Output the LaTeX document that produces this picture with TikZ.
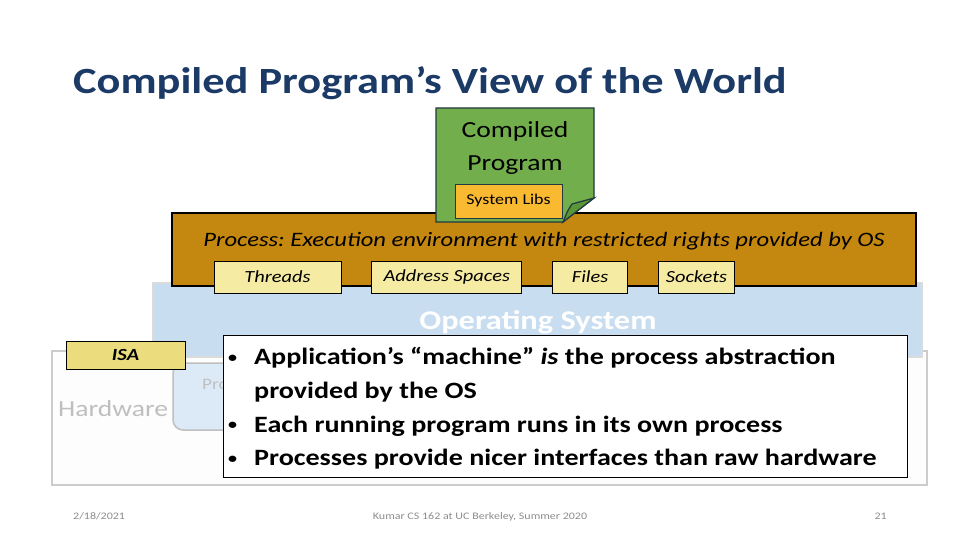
\documentclass[tikz,border=0pt]{standalone}
\usepackage{fontspec}
\setmainfont{Carlito}[FakeStretch=1.2]
\usetikzlibrary{positioning}
\definecolor{titleblue}{HTML}{1B3A66}
\definecolor{progreen}{HTML}{72AE4B}
\definecolor{folddark}{HTML}{5C9438}
\definecolor{greenline}{HTML}{203A40}
\definecolor{libsorange}{HTML}{F9B931}
\definecolor{procbrown}{HTML}{C4870F}
\definecolor{tagyellow}{HTML}{F6EBA3}
\definecolor{isayellow}{HTML}{EBDD7D}
\definecolor{osblue}{HTML}{C9DDF0}
\definecolor{problue}{HTML}{DCEAF8}
\definecolor{hwfill}{HTML}{FDFDFD}
\definecolor{hwline}{HTML}{CCCCCC}
\definecolor{footgray}{HTML}{8C8C8C}
\definecolor{fadegray}{HTML}{BFBFBF}
\newcommand{\smallbul}{\raisebox{2.5pt}{\fontsize{15}{15}\selectfont\textbullet}}
\frenchspacing
\begin{document}
\begin{tikzpicture}[x=1pt,y=-1pt,
  layer/.style={rectangle, inner sep=0pt},
  tagbox/.style={rectangle, draw=black, fill=tagyellow, line width=0.8pt, inner sep=0pt,
    minimum height=32pt, font=\fontsize{17}{19}\selectfont\itshape},
  foot/.style={text=footgray, font=\fontsize{10}{12}\selectfont, inner sep=0pt}]
\useasboundingbox (0,0) rectangle (960,540);
% title
\node[anchor=base west, inner sep=0pt, text=titleblue, font=\fontsize{37}{40}\selectfont\bfseries] (title) at (73,94) {Compiled Program’s View of the World};
% hardware layer
\node[layer, draw=hwline, line width=1.5pt, fill=hwfill, minimum width=875pt, minimum height=134pt] (hw) at (489.5,418) {};
\node[anchor=base west, inner sep=0pt, text=fadegray, font=\fontsize{23}{25}\selectfont] (hwtext) at (58,416) {Hardware};
\node[layer, draw=fadegray, line width=1.5pt, fill=problue, rounded corners=10pt, minimum width=230pt, minimum height=67pt] (probox) at (288,396.5) {};
\node[anchor=base west, inner sep=0pt, text=fadegray, font=\fontsize{16}{18}\selectfont] (protext) at (202,389) {Pro};
% operating system layer
\node[layer, draw=hwline!70, line width=1.5pt, fill=osblue, minimum width=769pt, minimum height=74pt] (os) at (537.5,320) {};
\node[inner sep=0pt, text=white, font=\fontsize{27}{29}\selectfont\bfseries] (ostext) at (538,322) {Operating System};
% process layer
\node[layer, draw=black, line width=1.2pt, fill=procbrown, minimum width=744pt, minimum height=73pt] (process) at (544,249.5) {};
\node[inner sep=0pt, font=\fontsize{20.5}{22}\selectfont\itshape] (proctext) at (544,241) {Process: Execution environment with restricted rights provided by OS};
\node[tagbox, minimum width=127pt] (threads) at (277.5,277) {Threads};
\node[tagbox, minimum width=150pt, right=30pt of threads] (addr) {Address Spaces};
\node[tagbox, minimum width=75pt, right=30pt of addr] (files) {Files};
\node[tagbox, minimum width=76pt, right=30pt of files] (sockets) {Sockets};
% compiled program note
\draw[greenline, line width=1.2pt, fill=progreen] (436,108) -- (594,108) -- (594,198) -- (563,222) -- (436,222) -- cycle;
\draw[greenline, line width=1.2pt, fill=folddark] (594,198) -- (572,204) .. controls (568,210) .. (563,222) -- cycle;
\node[align=center, inner sep=0pt, font=\fontsize{23}{33}\selectfont] (progtext) at (515,148) {Compiled\\Program};
\node[layer, draw=greenline, line width=1pt, fill=libsorange, minimum width=107pt, minimum height=34pt, font=\fontsize{15}{17}\selectfont] (libs) at (508.5,201) {System Libs};
% ISA
\node[layer, draw=black, line width=0.8pt, fill=isayellow, minimum width=119pt, minimum height=28pt, font=\fontsize{17}{19}\selectfont\bfseries\itshape] (isa) at (125.5,355) {ISA};
% bullet box
\node[layer, draw=black, line width=1pt, fill=white, minimum width=684pt, minimum height=142pt] (bullets) at (565,406) {};
\node[anchor=north west, inner sep=0pt, font=\fontsize{23.4}{33.7}\selectfont\bfseries] (btext) at (228,341) {%
\begin{tabular}{@{}p{26pt}@{}l@{}}
\smallbul & Application’s “machine” \textit{is} the process abstraction\\
 & provided by the OS\\
\smallbul & Each running program runs in its own process\\
\smallbul & Processes provide nicer interfaces than raw hardware
\end{tabular}};
% footer
\node[foot, anchor=base west] (date) at (73,519) {2/18/2021};
\node[foot, anchor=base] (course) at (480,519) {Kumar CS 162 at UC Berkeley, Summer 2020};
\node[foot, anchor=base east] (page) at (887,519) {21};
\end{tikzpicture}
\end{document}
